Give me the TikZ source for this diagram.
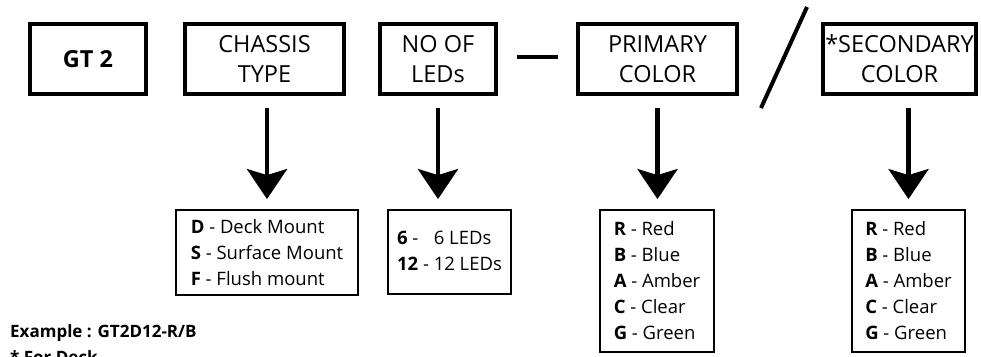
\documentclass[tikz,border=0pt]{standalone}
\usepackage{fontspec}
\setmainfont{Open Sans}
\usetikzlibrary{arrows.meta,positioning}
\begin{document}
\begin{tikzpicture}[x=1pt,y=-1pt]
	\tikzset{
	  HeadStyle/.style = { draw, line width=4pt, inner sep=0pt, minimum height=70pt,
	                       align=center, font=\fontsize{23.5}{30}\selectfont },
	  OptionStyle/.style = { draw, line width=1.8pt, inner sep=0pt, align=left,
	                         font=\fontsize{18.5}{26}\selectfont },
	  EdgeStyle/.style = { line width=4.5pt,
	                       -{Stealth[length=30pt,width=40pt,inset=6pt]},
	                       shorten <=12pt, shorten >=10pt },
	  MarkStyle/.style = { line width=4pt } }
	\useasboundingbox (0,0) rectangle (981,356);
	\node[HeadStyle, minimum width=116pt] (gt) at (88,59) {\bfseries GT 2};
	\node[HeadStyle, minimum width=159pt] (chassis) at (264.5,59) {CHASSIS\\TYPE};
	\node[HeadStyle, minimum width=116pt] (leds) at (438,59) {NO OF\\LEDs};
	\node[HeadStyle, minimum width=159pt] (primary) at (657.5,59) {PRIMARY\\COLOR};
	\node[HeadStyle, minimum width=153pt] (secondary) at (899.5,59) {*SECONDARY\\COLOR};
	\node[OptionStyle, minimum width=182pt, minimum height=85pt]
	  (chassisopt) at (267,252.5)
	  {\textbf{D} - Deck Mount\\\textbf{S} - Surface Mount\\\textbf{F} - Flush mount};
	\node[OptionStyle, minimum width=123pt, minimum height=84pt]
	  (ledsopt) at (449.5,252)
	  {\begin{tabular}{@{}l@{\ }l@{}}
	    \textbf{6} - & 6 LEDs\\
	    \textbf{12} - & 12 LEDs
	  \end{tabular}};
	\node[OptionStyle, minimum width=114pt, minimum height=142pt]
	  (primaryopt) at (657,281)
	  {\textbf{R} - Red\\\textbf{B} - Blue\\\textbf{A} - Amber\\\textbf{C} - Clear\\\textbf{G} - Green};
	\node[OptionStyle, minimum width=113pt, minimum height=142pt]
	  (secondaryopt) at (908.5,281)
	  {\textbf{R} - Red\\\textbf{B} - Blue\\\textbf{A} - Amber\\\textbf{C} - Clear\\\textbf{G} - Green};
	\draw[EdgeStyle] (chassis.south -| chassisopt) -- (chassisopt);
	\draw[EdgeStyle] (leds) -- (leds |- ledsopt.north);
	\draw[EdgeStyle] (primary) -- (primary |- primaryopt.north);
	\draw[EdgeStyle] (secondary.south -| secondaryopt) -- (secondaryopt);
	\draw[MarkStyle, shorten <=19pt, shorten >=18pt] ([yshift=2pt]leds.east) -- ([yshift=2pt]primary.west);
	\coordinate (slashtop) at (807,7);
	\coordinate (slashbottom) at (761,108);
	\draw[MarkStyle] (slashtop) -- (slashbottom);
	\node[anchor=base west, inner sep=0pt, font=\fontsize{17}{26}\selectfont\bfseries]
	  (example) at (10,337) {Example : GT2D12-R/B};
	\node[anchor=base west, inner sep=0pt, font=\fontsize{17}{26}\selectfont\bfseries]
	  (note) at (10,363) {* For Deck};
\end{tikzpicture}
\end{document}
